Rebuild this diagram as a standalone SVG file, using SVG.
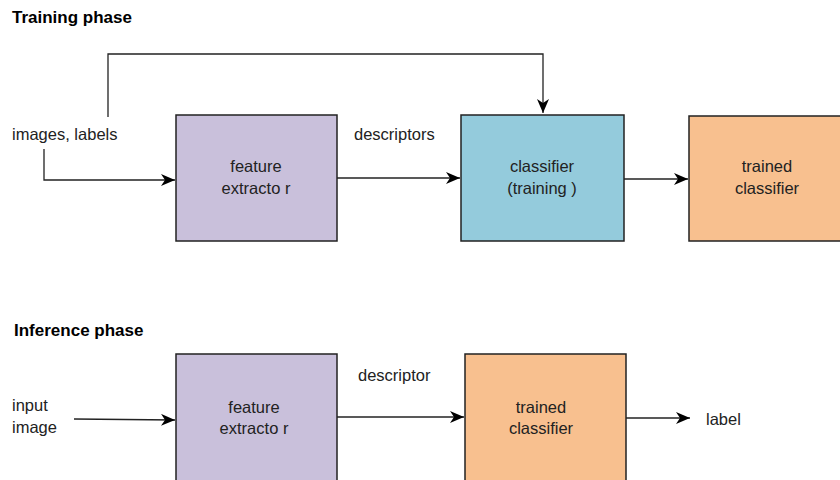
<svg xmlns="http://www.w3.org/2000/svg" width="840" height="480" viewBox="0 0 840 480">
<style>
text{font-family:"Liberation Sans",Arial,sans-serif;font-size:16.5px;fill:#222}
.t{font-weight:bold;font-size:17px;fill:#000}
.c{text-anchor:middle}
.box{stroke:#222;stroke-width:1.5}
.fe{fill:#C9C0DB}.cl{fill:#94CBDC}.tr{fill:#F8C08F}
.ln{fill:none;stroke:#222;stroke-width:1.3;marker-end:url(#ah)}
</style>
<defs>
<marker id="ah" viewBox="0 0 14 12" refX="14" refY="6" markerWidth="14" markerHeight="12" markerUnits="userSpaceOnUse" orient="auto">
<path d="M0,0 L14,6 L0,12 L4,6 z" fill="#000"/>
</marker>
</defs>
<text class="t" x="12" y="23">Training phase</text>
<text class="t" x="14" y="336">Inference phase</text>
<g id="connectors">
<path class="ln" d="M108,117 V54 H543 V113"/>
<path class="ln" d="M44,149 V180 H175"/>
<path class="ln" d="M337,178 H460"/>
<path class="ln" d="M624,179 H688"/>
<path class="ln" d="M74,419 L175,420"/>
<path class="ln" d="M337,417 H464"/>
<path class="ln" d="M626,418 H690"/>
</g>
<g id="lbl-images"><text x="12" y="140">images, labels</text></g>
<g id="lbl-descriptors"><text x="354" y="140">descriptors</text></g>
<g id="fe1"><rect class="box fe" x="176" y="115" width="161" height="126"/><text class="c" x="256" y="172">feature</text><text class="c" x="256" y="194">extracto r</text></g>
<g id="cls"><rect class="box cl" x="461" y="115" width="163" height="126"/><text class="c" x="542" y="172">classifier</text><text class="c" x="542" y="194">(training )</text></g>
<g id="tc1"><rect class="box tr" x="689" y="116" width="160" height="125"/><text class="c" x="767" y="172">trained</text><text class="c" x="767" y="194">classifier</text></g>
<g id="lbl-input"><text x="12" y="411">input</text><text x="12" y="433">image</text></g>
<g id="lbl-descriptor"><text x="358" y="381">descriptor</text></g>
<g id="fe2"><rect class="box fe" x="176" y="354" width="161" height="130"/><text class="c" x="254" y="413">feature</text><text class="c" x="254" y="434">extracto r</text></g>
<g id="tc2"><rect class="box tr" x="465" y="354" width="161" height="130"/><text class="c" x="541" y="413">trained</text><text class="c" x="541" y="434">classifier</text></g>
<g id="lbl-label"><text x="706" y="425">label</text></g>
</svg>
